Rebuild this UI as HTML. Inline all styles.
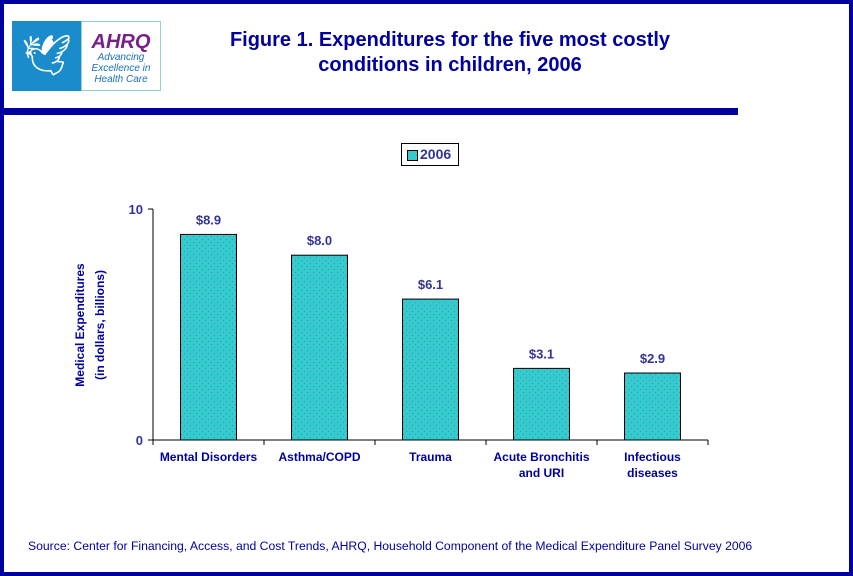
<!DOCTYPE html>
<html><head><meta charset="utf-8"><style>
body{margin:0;width:853px;height:576px;overflow:hidden;background:#fff;font-family:"Liberation Sans",Arial,sans-serif}
#frame{position:absolute;left:0;top:0;width:845px;height:568px;border:4px solid #0000a0;}
</style></head><body>
<div id="frame"></div>
<div style="position:absolute;left:0;top:108px;width:738px;height:7px;background:#0000a0"></div>
<div style="position:absolute;left:12px;top:21px;width:69px;height:70px;background:#1a8ccc;color:#fff;font-size:40px;text-align:center;line-height:70px">🕊</div>
<div style="position:absolute;left:81px;top:21px;width:80px;height:70px;background:#fff;border:1px solid #9cc;box-sizing:border-box;text-align:center">
<div style="color:#7a1f8a;font-weight:bold;font-style:italic;font-size:20px;margin-top:10px;line-height:20px">AHRQ</div>
<div style="color:#1a6fb8;font-style:italic;font-size:10px;line-height:11px">Advancing<br>Excellence in<br>Health Care</div></div>
<div style="position:absolute;left:170px;top:28px;width:560px;text-align:center;color:#0000a0;font-weight:bold;font-size:20px;line-height:25px">Figure 1. Expenditures for the five most costly<br>conditions in children, 2006</div>
<div style="position:absolute;left:401px;top:143px;width:58px;height:23px;border:1px solid #000;box-sizing:border-box">
<div style="position:absolute;left:5px;top:6px;width:9px;height:9px;background:#33cccc;border:1px solid #000"></div>
<div style="position:absolute;left:18px;top:2px;color:#333399;font-weight:bold;font-size:14px">2006</div></div>
<svg id="chart" width="853" height="576" style="position:absolute;left:0;top:0"></svg>
<div style="position:absolute;left:28px;top:539px;color:#0000a0;font-size:12.2px">Source: Center for Financing, Access, and Cost Trends, AHRQ, Household Component of the Medical Expenditure Panel Survey 2006</div>
<script>
const categories=[["Mental Disorders"],["Asthma/COPD"],["Trauma"],["Acute Bronchitis","and URI"],["Infectious","diseases"]];
const values=[8.9,8.0,6.1,3.1,2.9];
const valueLabels=["$8.9","$8.0","$6.1","$3.1","$2.9"];
const yTicks=[0,10];
const svg=document.getElementById('chart');const NS="http://www.w3.org/2000/svg";
const x0=153,x1=708,yB=440,yT=209,yMax=10;
const y=v=>yB-(v/yMax)*(yB-yT);
const band=(x1-x0)/categories.length;
const xc=i=>x0+band*(i+0.5);
function mk(t,a){const e=document.createElementNS(NS,t);for(const k in a)e.setAttribute(k,a[k]);svg.appendChild(e);return e;}
const defs=mk('defs',{});
defs.innerHTML='<pattern id="dots" width="6" height="6" patternUnits="userSpaceOnUse"><rect width="6" height="6" fill="#33cccc"/><rect x="1" y="2" width="1" height="1" fill="#6a7ad0"/><rect x="4" y="5" width="1" height="1" fill="#6a7ad0"/></pattern>';
let ax=mk('line',{x1:x0,y1:yT,x2:x0,y2:yB,stroke:'#000'});

let bx=mk('line',{x1:x0,y1:yB,x2:x1,y2:yB,stroke:'#000'});

yTicks.forEach(t=>{const l=mk('line',{x1:x0-5,y1:y(t),x2:x0,y2:y(t),stroke:'#000'});

const tx=mk('text',{x:x0-10,y:y(t)+5,'text-anchor':'end','font-size':13,'font-weight':'bold',fill:'#333399','font-family':'Liberation Sans'});tx.textContent=t;
});
for(let i=0;i<=categories.length;i++){const l=mk('line',{x1:x0+band*i,y1:yB,x2:x0+band*i,y2:yB+5,stroke:'#000'});
}
values.forEach((v,i)=>{const w=56;
const r=mk('rect',{x:xc(i)-w/2,y:y(v),width:w,height:yB-y(v),fill:'url(#dots)',stroke:'#000','stroke-width':1});

const t=mk('text',{x:xc(i),y:y(v)-10,'text-anchor':'middle','font-size':13,'font-weight':'bold',fill:'#333399','font-family':'Liberation Sans'});t.textContent=valueLabels[i];

categories[i].forEach((s,j)=>{const c=mk('text',{x:xc(i),y:yB+21+j*16,'text-anchor':'middle','font-size':12,'font-weight':'bold',fill:'#0000a0','font-family':'Liberation Sans'});c.textContent=s;
});});
const yt=mk('text',{transform:'translate(84,325) rotate(-90)','text-anchor':'middle','font-size':12,'font-weight':'bold',fill:'#0000a0','font-family':'Liberation Sans'});

yt.innerHTML='<tspan x="0" y="0">Medical Expenditures</tspan><tspan x="0" y="20">(in dollars, billions)</tspan>';
</script>
</body></html>
